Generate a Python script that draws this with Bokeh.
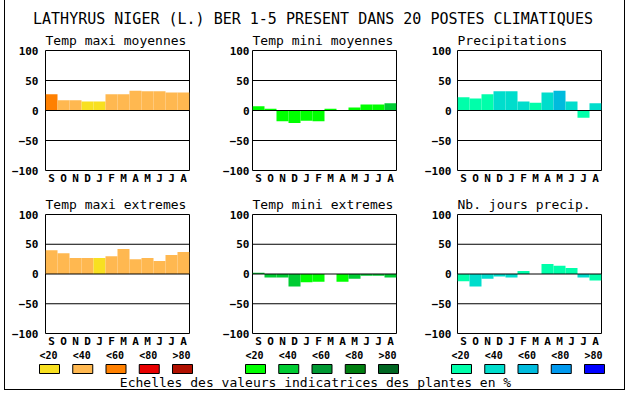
from bokeh.plotting import figure
from bokeh.layouts import column, row
from bokeh.models import Range1d, FixedTicker, Span, Spacer
from bokeh.core.properties import value
from bokeh.embed import file_html
from bokeh.resources import INLINE

# ---------------- data ----------------
main_title = "LATHYRUS NIGER (L.) BER 1-5 PRESENT DANS  20 POSTES CLIMATIQUES"
footer = "Echelles des valeurs indicatrices des plantes en %"
months = ["S", "O", "N", "D", "J", "F", "M", "A", "M", "J", "J", "A"]
y_ticks = [-100, -50, 0, 50, 100]
ref_lines = [-50, 0, 50]
scale_labels = ["<20", "<40", "<60", "<80", ">80"]

warm = ["#f8e020", "#ffb850", "#ff8000", "#e80000", "#b01000"]
green = ["#00ff00", "#00cc33", "#009933", "#007f10", "#006622"]
aqua = ["#00ffaa", "#00ddcc", "#00bbdd", "#0099ee", "#0000ff"]

titles = ["Temp maxi moyennes", "Temp mini moyennes", "Precipitations",
          "Temp maxi extremes", "Temp mini extremes", "Nb. jours precip."]

tmax_moy = [27, 17, 17, 15, 15, 27, 27, 33, 32, 32, 30, 30]
tmax_moy_cls = [2, 1, 1, 0, 0, 1, 1, 1, 1, 1, 1, 1]
tmin_moy = [7, 3, -18, -21, -17, -18, 3, 0, 5, 10, 10, 12]
tmin_moy_cls = [0, 0, 0, 0, 0, 0, 0, 0, 0, 0, 0, 1]
precip = [22, 20, 27, 32, 32, 15, 13, 30, 33, 15, -12, 12]
precip_cls = [0, 0, 0, 1, 1, 1, 0, 1, 2, 1, 0, 1]
tmax_ext = [40, 35, 27, 27, 27, 30, 42, 25, 27, 22, 32, 37]
tmax_ext_cls = [1, 1, 1, 1, 0, 1, 1, 1, 1, 1, 1, 1]
tmin_ext = [2, -6, -6, -21, -14, -13, 0, -13, -8, -3, -3, -6]
tmin_ext_cls = [1, 1, 1, 1, 0, 0, 0, 0, 1, 1, 1, 1]
jours = [-12, -21, -8, -4, -6, 5, 0, 17, 14, 10, -6, -11]
jours_cls = [0, 1, 1, 1, 1, 0, 0, 0, 0, 0, 1, 0]

MONO = "DejaVu Sans Mono"

# ---------------- layout constants ----------------
col_w = [211, 206, 202]
col_left = [40, 36, 35]
col_right = [27, 26, 23]
col_standoff = [7, 3, 6]
row_h = [164, 159]
row_top = [23, 23]
row_bottom = [21, 16]


def panel(ti, vals, cls, pal, c, r):
    p = figure(width=col_w[c], height=row_h[r],
               x_range=Range1d(-0.5, 11.5), y_range=Range1d(-100, 100),
               output_backend="svg", toolbar_location=None,
               min_border_left=col_left[c], min_border_right=col_right[c],
               min_border_top=row_top[r], min_border_bottom=row_bottom[r],
               background_fill_color="white", border_fill_color="white")
    p.title.text = ti
    p.title.align = "left"
    p.title.offset = 0
    p.title.standoff = 5
    p.title.text_font = MONO
    p.title.text_font_style = "normal"
    p.title.text_font_size = "13px"
    p.title.text_color = "black"
    p.vbar(x=list(range(len(vals))), top=vals, bottom=0, width=1,
           fill_color=[pal[k] for k in cls], line_color=None)
    for lv in ref_lines:
        p.add_layout(Span(location=lv, dimension="width",
                          line_color="black", line_width=1))
    p.outline_line_color = "black"
    p.outline_line_width = 1
    p.grid.visible = False
    xa = p.xaxis[0]
    xa.ticker = FixedTicker(ticks=list(range(len(months))))
    xa.major_label_overrides = {i: m for i, m in enumerate(months)}
    ya = p.yaxis[0]
    ya.ticker = FixedTicker(ticks=y_ticks)
    for ax, so in ((xa, 1), (ya, col_standoff[c])):
        ax.axis_line_color = None
        ax.major_tick_line_color = None
        ax.minor_tick_line_color = None
        ax.major_tick_out = 0
        ax.major_tick_in = 0
        ax.minor_tick_out = 0
        ax.major_label_standoff = so
        ax.major_label_text_font = MONO
        ax.major_label_text_font_style = "bold"
        ax.major_label_text_font_size = "11px"
        ax.major_label_text_color = "black"
    return p


p1 = panel(titles[0], tmax_moy, tmax_moy_cls, warm, 0, 0)
p2 = panel(titles[1], tmin_moy, tmin_moy_cls, green, 1, 0)
p3 = panel(titles[2], precip, precip_cls, aqua, 2, 0)
p4 = panel(titles[3], tmax_ext, tmax_ext_cls, warm, 0, 1)
p5 = panel(titles[4], tmin_ext, tmin_ext_cls, green, 1, 1)
p6 = panel(titles[5], jours, jours_cls, aqua, 2, 1)

# title strip
TW = sum(col_w)
TH = 27
th = figure(width=TW, height=TH, x_range=Range1d(0, TW), y_range=Range1d(TH, 0),
            x_axis_type=None, y_axis_type=None, output_backend="svg",
            toolbar_location=None, min_border=0, outline_line_color=None)
th.grid.visible = False
th.text(x=[312], y=[18.5], text=[main_title], text_font=value(MONO),
        text_font_size="15px", text_align="center", text_baseline="middle",
        text_color="black")

# legend strip
LH = 39
leg = figure(width=TW, height=LH, x_range=Range1d(0, TW), y_range=Range1d(LH, 0),
             x_axis_type=None, y_axis_type=None, output_backend="svg",
             toolbar_location=None, min_border=0, outline_line_color=None)
leg.grid.visible = False
group_left = [34, 240, 446]
bx, bc, lx, lt = [], [], [], []
for g, pal in zip(group_left, (warm, green, aqua)):
    for i in range(5):
        cx = g + 10 + i * 33.25
        bx.append(cx)
        bc.append(pal[i])
        lx.append(cx - 1)
        lt.append(scale_labels[i])
leg.rect(x=bx, y=18.5, width=20, height=9, fill_color=bc,
         line_color="black", line_width=1)
leg.text(x=lx, y=5, text=lt, text_font=value(MONO), text_font_size="10px",
         text_font_style="bold", text_align="center", text_baseline="middle",
         text_color="black")
leg.text(x=[310], y=[32], text=[footer], text_font=value(MONO),
         text_font_size="13px", text_align="center", text_baseline="middle",
         text_color="black")

inner = column(th, row(p1, p2, p3), row(p4, p5, p6), leg,
               styles={"border-left": "1px solid black",
                       "border-right": "1px solid black",
                       "border-bottom": "1px solid black"})
layout = row(Spacer(width=4, height=10), inner)

with open("out.html", "w") as f:
    f.write(file_html(layout, INLINE))
